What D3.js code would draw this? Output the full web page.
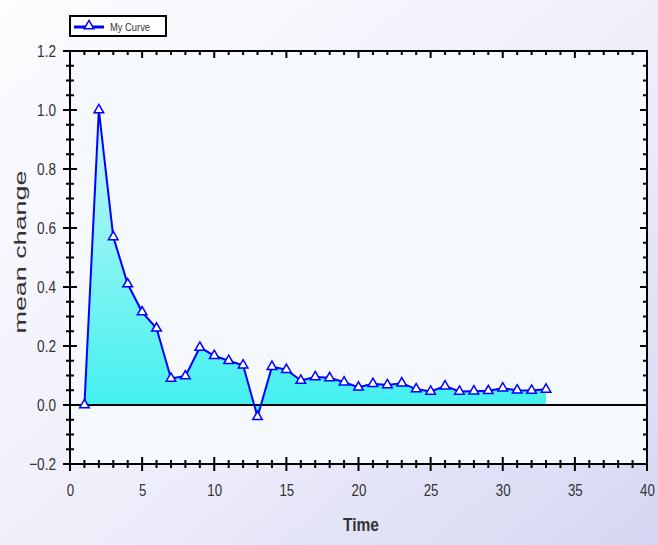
<!DOCTYPE html>
<html>
<head>
<meta charset="utf-8">
<script src="https://cdn.jsdelivr.net/npm/d3@7"></script>
<style>
  body { margin: 0; padding: 0; }
  svg { display: block; font-family: "Liberation Sans", Arial, sans-serif; }
</style>
</head>
<body>
<div id="chart"></div>
<script>
// data
var times = [1, 2, 3, 4, 5, 6, 7, 8, 9, 10, 11, 12, 13, 14, 15, 16, 17,
             18, 19, 20, 21, 22, 23, 24, 25, 26, 27, 28, 29, 30, 31, 32, 33];
var meanChange = [0.0, 1.0, 0.57, 0.41, 0.315, 0.26, 0.09, 0.098, 0.195, 0.167, 0.15, 0.135, -0.04,
                  0.13, 0.12, 0.083, 0.095, 0.092, 0.077, 0.06, 0.072, 0.068, 0.074, 0.054, 0.046,
                  0.064, 0.046, 0.047, 0.048, 0.057, 0.05, 0.049, 0.053];
var xTicks = [0, 5, 10, 15, 20, 25, 30, 35, 40];
var yTicks = [-0.2, 0.0, 0.2, 0.4, 0.6, 0.8, 1.0, 1.2];
var seriesName = "My Curve";

var W = 658, H = 545;
var margin = {top: 51, right: 11, bottom: 81, left: 70},
    width = W - margin.left - margin.right,
    height = H - margin.top - margin.bottom;

var svg = d3.select("#chart")
  .append("svg")
    .attr("width", W)
    .attr("height", H);

var defs = svg.append("defs");
var bg = defs.append("linearGradient").attr("id", "bg")
  .attr("x1", "0%").attr("y1", "0%").attr("x2", "100%").attr("y2", "100%");
bg.append("stop").attr("offset", "0%").attr("stop-color", "#fdfdff");
bg.append("stop").attr("offset", "55%").attr("stop-color", "#eeeefb");
bg.append("stop").attr("offset", "100%").attr("stop-color", "#d6d6f2");

var fillGrad = defs.append("linearGradient").attr("id", "fillGrad")
  .attr("x1", "0").attr("y1", "0").attr("x2", "0").attr("y2", "1");
fillGrad.append("stop").attr("offset", "0%").attr("stop-color", "#c8f6f6");
fillGrad.append("stop").attr("offset", "100%").attr("stop-color", "#3ff0f0");

svg.append("rect").attr("width", W).attr("height", H).attr("fill", "url(#bg)");

var g = svg.append("g")
  .attr("transform", "translate(" + margin.left + "," + margin.top + ")");

var x = d3.scaleLinear().domain([0, 40]).range([0, width]);
var y = d3.scaleLinear().domain([-0.2, 1.2]).range([height, 0]);

// plot area
g.append("rect")
  .attr("width", width).attr("height", height)
  .attr("fill", "#f5f8fd");

// area + line
var pts = times.map(function(t, i) { return [t, meanChange[i]]; });

g.append("path")
  .datum(pts)
  .attr("fill", "url(#fillGrad)")
  .attr("d", d3.area()
    .x(function(d) { return x(d[0]); })
    .y0(y(0))
    .y1(function(d) { return y(d[1]); }));

// zero line
g.append("line")
  .attr("x1", 0).attr("x2", width)
  .attr("y1", y(0)).attr("y2", y(0))
  .attr("stroke", "#000").attr("stroke-width", 2);

g.append("path")
  .datum(pts)
  .attr("fill", "none")
  .attr("stroke", "#0000ff")
  .attr("stroke-width", 2)
  .attr("d", d3.line()
    .x(function(d) { return x(d[0]); })
    .y(function(d) { return y(d[1]); }));

var tri = d3.symbol().type(d3.symbolTriangle).size(40);
g.append("g").selectAll("path")
  .data(pts)
  .enter()
  .append("path")
    .attr("d", tri)
    .attr("transform", function(d) { return "translate(" + x(d[0]) + "," + y(d[1]) + ")"; })
    .attr("fill", "#fff")
    .attr("stroke", "#0000ff")
    .attr("stroke-width", 1.5);

// frame
g.append("rect")
  .attr("width", width).attr("height", height)
  .attr("fill", "none").attr("stroke", "#000").attr("stroke-width", 2);

// ticks
function tickLines(sel, vals, isX, a, b) {
  sel.selectAll(null)
    .data(vals)
    .enter()
    .append("line")
      .attr("x1", function(d) { return isX ? x(d) : a; })
      .attr("x2", function(d) { return isX ? x(d) : b; })
      .attr("y1", function(d) { return isX ? a : y(d); })
      .attr("y2", function(d) { return isX ? b : y(d); })
      .attr("stroke", "#000")
      .attr("stroke-width", 2);
}
var xMinor = d3.range(0, 41, 1).filter(function(v) { return v % 5 !== 0; });
var yMinor = d3.range(-4, 25, 1).map(function(v) { return v * 0.05; })
  .filter(function(v, i) { return (i % 4) !== 0; });

var tk = g.append("g");
// bottom: crossing ticks
tickLines(tk, xTicks, true, height - 7, height + 7);
tickLines(tk, xMinor, true, height - 4, height + 4);
// top: inward
tickLines(tk, xTicks, true, 0, 7);
tickLines(tk, xMinor, true, 0, 4);
// left: crossing
tickLines(tk, yTicks, false, -7, 7);
tickLines(tk, yMinor, false, -4, 4);
// right: inward
tickLines(tk, yTicks, false, width - 7, width);
tickLines(tk, yMinor, false, width - 4, width);

// squeeze text horizontally, like the reference's narrow glyphs
function squeeze(sel, k) {
  sel.each(function() {
    var l = this.getComputedTextLength();
    this.setAttribute("textLength", l * k);
    this.setAttribute("lengthAdjust", "spacingAndGlyphs");
  });
}

// tick labels
g.append("g")
  .attr("transform", "translate(0," + height + ")")
  .call(d3.axisBottom(x).tickValues(xTicks).tickSize(0).tickPadding(20).tickFormat(d3.format("d")))
  .call(function(a) { a.select(".domain").remove(); })
  .selectAll("text")
    .attr("font-size", 17).attr("fill", "#333")
    .call(squeeze, 0.78);

g.append("g")
  .call(d3.axisLeft(y).tickValues(yTicks).tickSize(0).tickPadding(14).tickFormat(d3.format(".1f")))
  .call(function(a) { a.select(".domain").remove(); })
  .selectAll("text")
    .attr("font-size", 17).attr("fill", "#333")
    .call(squeeze, 0.8);

// axis titles
svg.append("text")
  .attr("x", 361).attr("y", 531)
  .attr("text-anchor", "middle")
  .attr("font-size", 19).attr("font-weight", "bold").attr("fill", "#333")
  .attr("textLength", 36).attr("lengthAdjust", "spacingAndGlyphs")
  .text("Time");

svg.append("text")
  .attr("transform", "translate(26,252) rotate(-90)")
  .attr("text-anchor", "middle")
  .attr("font-size", 16).attr("fill", "#333")
  .attr("textLength", 163).attr("lengthAdjust", "spacingAndGlyphs")
  .text("mean change");

// legend
var lg = svg.append("g").attr("transform", "translate(70,16)");
lg.append("rect")
  .attr("width", 96).attr("height", 20)
  .attr("fill", "#fff").attr("stroke", "#000").attr("stroke-width", 2);
lg.append("line")
  .attr("x1", 4).attr("x2", 34).attr("y1", 11).attr("y2", 11)
  .attr("stroke", "#0000ff").attr("stroke-width", 3);
lg.append("path")
  .attr("d", tri)
  .attr("transform", "translate(19,10)")
  .attr("fill", "#fff").attr("stroke", "#0000ff").attr("stroke-width", 1.5);
lg.append("text")
  .attr("x", 40).attr("y", 14.5)
  .attr("font-size", 11).attr("fill", "#333")
  .text(seriesName)
  .call(squeeze, 0.85);
</script>
</body>
</html>
